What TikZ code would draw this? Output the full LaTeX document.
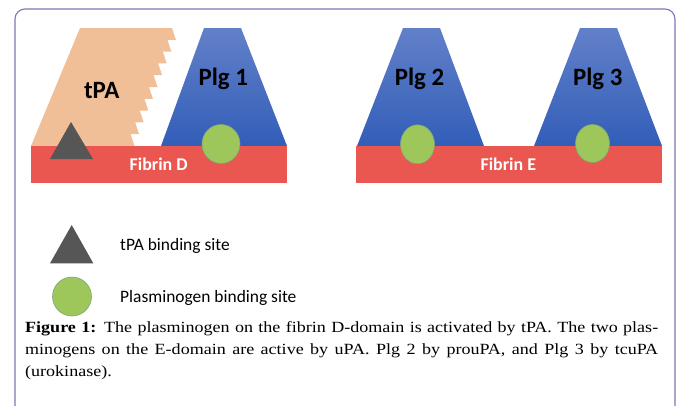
\documentclass[tikz,border=0pt]{standalone}
\usepackage{fontspec}
\setmainfont{Liberation Serif}
\newfontfamily\captionfont{Liberation Serif}[FakeStretch=1.16]
\newfontfamily\calibri{Carlito}

\definecolor{framecol}{RGB}{125,118,180}
\definecolor{peach}{RGB}{240,190,151}
\definecolor{plgtop}{RGB}{98,128,201}
\definecolor{plgbottom}{RGB}{50,94,184}
\definecolor{fibrin}{RGB}{234,86,80}
\definecolor{sitegreen}{RGB}{157,199,91}
\definecolor{siteedge}{RGB}{128,165,120}
\definecolor{sitegray}{RGB}{86,86,86}

\tikzset{
  framebox/.style={draw=framecol, line width=1.1bp, rounded corners=10bp},
  plgshape/.style={top color=plgtop, bottom color=plgbottom, draw=none},
  fibrinbar/.style={fill=fibrin},
  plgsite/.style={fill=sitegreen, draw=siteedge, line width=0.6bp},
  tpasite/.style={fill=sitegray},
  biglabel/.style={inner sep=0, anchor=base, font=\calibri\bfseries\fontsize{25}{28}\selectfont},
  barlabel/.style={inner sep=0, anchor=base, text=white, font=\calibri\bfseries\fontsize{18}{20}\selectfont},
  legendlabel/.style={inner sep=0, anchor=base west, font=\calibri\fontsize{17.5}{20}\selectfont},
}

\begin{document}
\begin{tikzpicture}[x=1bp, y=-1bp]
\useasboundingbox (0,0) rectangle (681,405);

% outer frame, open at the bottom
\draw[framebox] (15,430) -- (15,9) -- (675,9) -- (675,430);

% tPA block with its serrated right edge
\fill[peach] (31,146) -- (80,28) -- (172,28)
  \foreach \i in {1,...,10} { -- ({172-4.6*\i+8.5},{28+11.8*\i}) -- ({172-4.6*\i},{28+11.8*\i}) }
  -- cycle;

% plasminogen molecules
\shade[plgshape] (161,146) -- (204,28) -- (241,28) -- (287,146) -- cycle;
\shade[plgshape] (357,146) -- (403,28) -- (440,28) -- (484,146) -- cycle;
\shade[plgshape] (534,146) -- (580,28) -- (617,28) -- (662,146) -- cycle;

% fibrin domains
\fill[fibrinbar] (31,146) rectangle (287,183);
\fill[fibrinbar] (356,146) rectangle (662,183);

% binding sites
\fill[tpasite] (71,122) -- (50,159) -- (93,159) -- cycle;
\draw[plgsite] (221,144) ellipse [x radius=19, y radius=19.5];
\draw[plgsite] (417.5,144.3) ellipse [x radius=17, y radius=19.5];
\draw[plgsite] (592.5,143.5) ellipse [x radius=17, y radius=19];

% labels
\node[biglabel] (tpa) at (101.7,98.5) {tPA};
\node[biglabel] (plg1) at (223.3,85) {Plg 1};
\node[biglabel] (plg2) at (419.5,85) {Plg 2};
\node[biglabel] (plg3) at (597.8,85) {Plg 3};
\node[barlabel] (fibD) at (158.7,170.7) {Fibrin D};
\node[barlabel] (fibE) at (508.3,170.7) {Fibrin E};

% legend
\fill[tpasite] (71.7,225) -- (50,263.3) -- (93.3,263.3) -- cycle;
\node[legendlabel] (legtpa) at (120,250.5) {tPA binding site};
\draw[plgsite] (72,296.5) circle [radius=19.5];
\node[legendlabel] (legplg) at (120,302) {Plasminogen binding site};

% caption
\node[inner sep=0, anchor=base west] (caption) at (25,332) {%
  \parbox[t]{633bp}{\captionfont\fontsize{15.6}{22.5}\selectfont
  \textbf{Figure 1:} The plasminogen on the fibrin D-domain is activated by tPA. The two plas-\linebreak
  minogens on the E-domain are active by uPA. Plg 2 by prouPA, and Plg 3 by tcuPA\linebreak
  (urokinase).}};
\end{tikzpicture}
\end{document}
